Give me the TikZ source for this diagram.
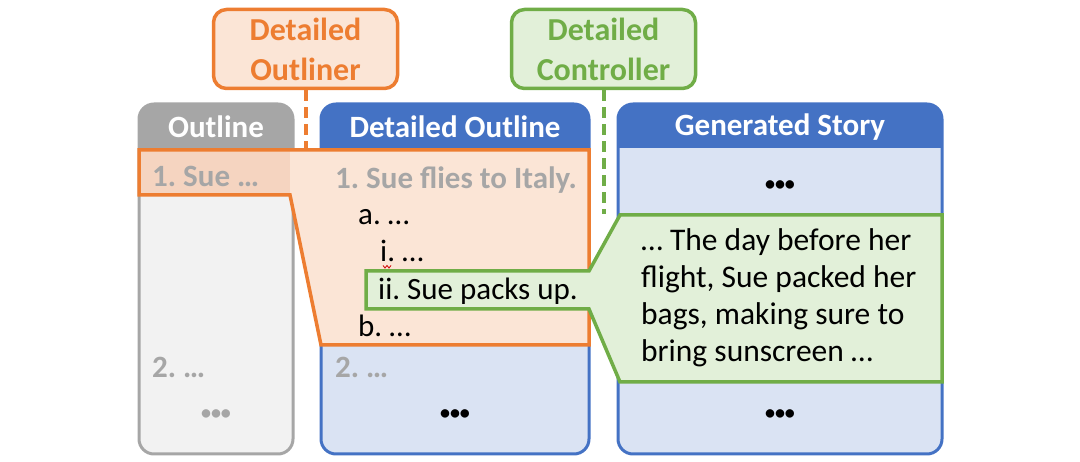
\documentclass[tikz,border=0pt]{standalone}
\usepackage{fontspec}
\setmainfont{Carlito}
\definecolor{ogray}{HTML}{A6A6A6}
\definecolor{obody}{HTML}{F2F2F2}
\definecolor{oblue}{HTML}{4472C4}
\definecolor{bbody}{HTML}{DAE3F3}
\definecolor{oorange}{HTML}{ED7D31}
\definecolor{lorange}{HTML}{FBE5D6}
\definecolor{rorange}{HTML}{F5D4C0}
\definecolor{ogreen}{HTML}{70AD47}
\definecolor{lgreen}{HTML}{E2F0D9}
\definecolor{gtext}{HTML}{A6A6A6}
\begin{document}
\frenchspacing
\begin{tikzpicture}[x=1pt,y=-1pt,
  hdr/.style={text=white,font=\fontsize{31}{36}\selectfont\bfseries,inner sep=0pt},
  grayb/.style={text=gtext,font=\fontsize{31}{36}\selectfont\bfseries,inner sep=0pt,anchor=base west},
  item/.style={text=black,font=\fontsize{31}{36}\selectfont,inner sep=0pt,anchor=base west},
  dots/.style={font=\fontsize{20}{24}\selectfont\bfseries,inner sep=0pt},
  agent/.style={rounded corners=13pt,line width=3.5pt,minimum width=184pt,minimum height=79pt,
    font=\fontsize{32}{40}\selectfont\bfseries,align=center,inner sep=0pt},
  dashline/.style={line width=4pt,dash pattern=on 11pt off 6pt}
]
\useasboundingbox (0,0) rectangle (1080,462);
% ---------- Outline column ----------
\fill[obody,rounded corners=15pt] (139,104) rectangle (293,454);
\fill[ogray] (139,148) [rounded corners=15pt] -- (139,104) -- (293,104) [sharp corners] -- (293,148) -- cycle;
\draw[ogray,line width=3pt,rounded corners=15pt] (139,104) rectangle (293,454);
% ---------- Detailed Outline column ----------
\fill[bbody,rounded corners=15pt] (321,104) rectangle (589,454);
\fill[oblue] (321,148) [rounded corners=15pt] -- (321,104) -- (589,104) [sharp corners] -- (589,148) -- cycle;
\draw[oblue,line width=3pt,rounded corners=15pt] (321,104) rectangle (589,454);
% ---------- Generated Story column ----------
\fill[bbody,rounded corners=15pt] (618,104) rectangle (942,454);
\fill[oblue] (618,148) [rounded corners=15pt] -- (618,104) -- (942,104) [sharp corners] -- (942,148) -- cycle;
\draw[oblue,line width=3pt,rounded corners=15pt] (618,104) rectangle (942,454);
% ---------- orange highlight ----------
\fill[lorange] (290,150) -- (589,150) -- (589,345) -- (321,345) -- (290,195) -- cycle;
\fill[rorange] (139,150) rectangle (290,195);
\draw[oorange,line width=3.5pt,line join=miter] (139,150) -- (589,150) -- (589,345) -- (321,345) -- (290,195) -- (139,195) -- cycle;
% ---------- green callout ----------
\draw[ogreen,fill=lgreen,line width=3.5pt,line join=miter] (366,271) -- (589,271) -- (620,215) -- (942,215) -- (942,382) -- (620,382) -- (589,309) -- (366,309) -- cycle;
% ---------- headers ----------
\node[hdr] (hO) at (216,127) {Outline};
\node[hdr] (hD) at (455,127) {Detailed Outline};
\node[hdr] (hG) at (780,127) {Generated Story};
% ---------- Outline texts ----------
\node[grayb] (o1) at (152,187) {1. Sue …};
\node[grayb] (o2) at (152,378) {2. …};
\node[dots,text=gtext] (o3) at (216,415) {•••};
% ---------- Detailed outline texts ----------
\node[grayb] (d1) at (335,189) {1. Sue flies to Italy.};
\node[item] (da) at (358,225) {a. …};
\node[item] (di) at (380,262) {i. …};
\draw[red!80!black,line width=0.8pt] (383,265.5) -- (385,268) -- (387,265.5) -- (389,268) -- (391,265.5);
\node[item] (dii) at (378,300) {ii. Sue packs up.};
\node[item] (db) at (358,337) {b. …};
\node[grayb] (d2) at (335,378) {2. …};
\node[dots] (d3) at (455,415) {•••};
% ---------- Story texts ----------
\node[dots] (s1) at (780,186) {•••};
\node[font=\fontsize{31.5}{37}\selectfont,align=left,anchor=west,inner sep=0pt] (st) at (641,298)
  {… The day before her\\flight, Sue packed her\\bags, making sure to\\bring sunscreen …};
\node[dots] (s3) at (780,415) {•••};
% ---------- agents ----------
\node[agent,draw=oorange,fill=lorange,text=oorange] (outliner) at (305.5,49) {Detailed\\Outliner};
\node[agent,draw=ogreen,fill=lgreen,text=ogreen] (controller) at (603.5,49) {Detailed\\Controller};
\coordinate (oend) at (305.5,148);
\coordinate (gend) at (603.5,214);
\draw[oorange,dashline] (outliner.south) -- (oend);
\draw[ogreen,dashline] (controller.south) -- (gend);
\end{tikzpicture}
\end{document}
